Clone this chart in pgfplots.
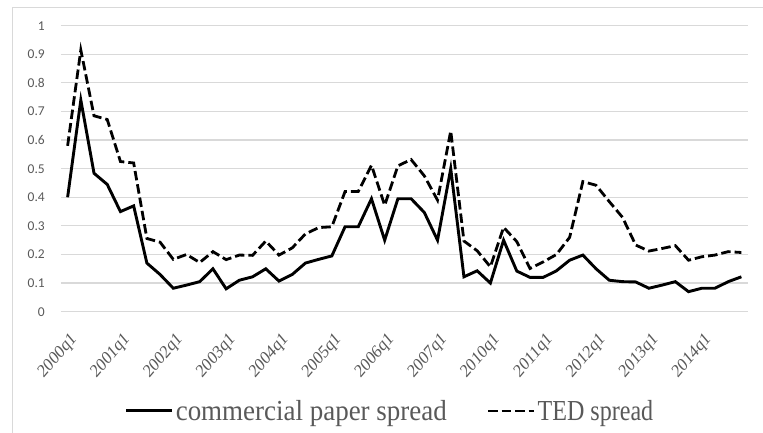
\documentclass[border=0pt]{standalone}
\usepackage{fontspec}
\setmainfont{Liberation Serif}
\newfontfamily\carlito{Carlito}
\usepackage{pgfplots}
\pgfplotsset{compat=1.18}
\usepackage{pgfplotstable}
\definecolor{gridgray}{HTML}{D9D9D9}
\definecolor{txtgray}{HTML}{595959}
\definecolor{bordergray}{HTML}{D9D9D9}

\pgfplotstableread{
i cp ted
0 0.40 0.58
1 0.74 0.915
2 0.484 0.685
3 0.445 0.672
4 0.35 0.525
5 0.37 0.52
6 0.17 0.256
7 0.13 0.243
8 0.082 0.183
9 0.093 0.20
10 0.105 0.172
11 0.15 0.21
12 0.08 0.182
13 0.11 0.198
14 0.122 0.197
15 0.15 0.247
16 0.107 0.198
17 0.13 0.223
18 0.17 0.272
19 0.183 0.294
20 0.195 0.297
21 0.297 0.42
22 0.297 0.42
23 0.395 0.512
24 0.25 0.372
25 0.395 0.51
26 0.395 0.532
27 0.347 0.475
28 0.25 0.39
29 0.50 0.632
30 0.122 0.247
31 0.143 0.213
32 0.10 0.157
33 0.25 0.295
34 0.142 0.245
35 0.12 0.151
36 0.12 0.174
37 0.143 0.20
38 0.18 0.26
39 0.198 0.455
40 0.15 0.442
41 0.11 0.385
42 0.105 0.33
43 0.104 0.233
44 0.082 0.212
45 0.093 0.221
46 0.105 0.231
47 0.07 0.18
48 0.082 0.192
49 0.082 0.198
50 0.105 0.21
51 0.122 0.207
}\datatable

\begin{document}
\begin{tikzpicture}[x=1pt,y=1pt]
\useasboundingbox (0,0) rectangle (763,433);
\draw[bordergray, line width=1pt] (12,0) -- (12,425) -- (763,425);
\begin{axis}[
  at={(61pt,121.3pt)}, anchor=south west,
  scale only axis, width=687pt, height=286pt,
  xmin=-0.5, xmax=51.5, ymin=0, ymax=1,
  axis line style={draw=none},
  xtick={0,4,8,12,16,20,24,28,32,36,40,44,48},
  xticklabels={2000q1,2001q1,2002q1,2003q1,2004q1,2005q1,2006q1,2007q1,2010q1,2011q1,2012q1,2013q1,2014q1},
  ytick={0,0.1,...,1.01},
  major tick length=0pt,
  ymajorgrids, grid style={gridgray, line width=1.2pt},
  /pgf/number format/assume math mode=true,
  yticklabel style={font=\carlito\fontsize{13.5}{13.5}\selectfont, text=txtgray, anchor=east, inner sep=0pt, xshift=-16pt},
  xticklabel style={font=\fontsize{18.5}{18.5}\selectfont, text=txtgray, anchor=north east, inner sep=0pt, xshift=2pt, yshift=-19pt, xscale=0.85, rotate=45},
  legend columns=2,
  legend style={at={(0.479,-0.347)}, anchor=center, draw=none, fill=none,
    font=\fontsize{29}{29}\selectfont, text=txtgray,
    /tikz/every even column/.append style={column sep=38pt},
    nodes={inner sep=2pt}},
  legend image code/.code={\draw[#1] (0pt,0pt) -- (46pt,0pt);},
  clip=false,
]
\addplot[black, line width=2.9pt, no markers] table[x=i, y=cp] {\datatable};
\addlegendentry{\scalebox{0.93}[1]{commercial paper spread}}
\addplot[black, line width=2.8pt, dash pattern=on 9.5pt off 4pt, no markers] table[x=i, y=ted] {\datatable};
\addlegendentry{\scalebox{0.83}[1]{TED spread}}
\end{axis}
\end{tikzpicture}
\end{document}
